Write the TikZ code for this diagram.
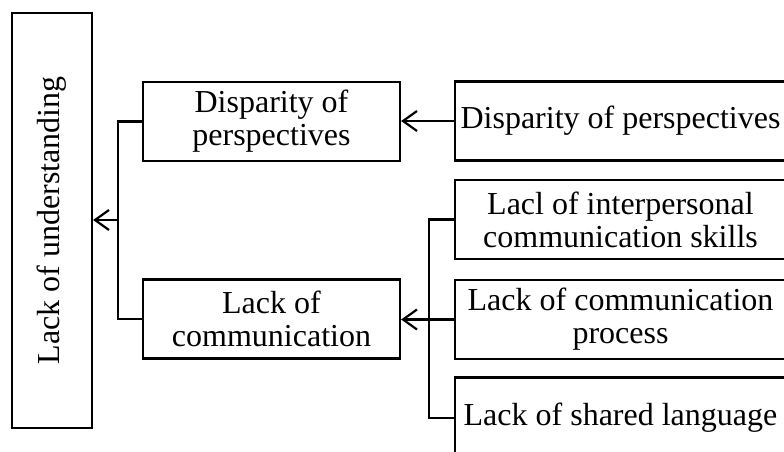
\documentclass[tikz,border=0pt]{standalone}
\usepackage{fontspec}
\setmainfont{Liberation Serif}
\usetikzlibrary{arrows.meta}

\begin{document}
\begin{tikzpicture}[x=1pt,y=-1pt,
		box/.style={draw,line width=2.2pt,align=center,inner sep=0pt,font=\fontsize{32}{33}\selectfont},
		link/.style={line width=2.2pt},
		arr/.style={line width=2.2pt,-{Straight Barb[length=14pt,width=20pt]}}]
		%%%%% START %%%%%
		\useasboundingbox (0,0) rectangle (784,452);
		\clip (0,0) rectangle (784,452);
		
		\node[box,minimum width=80pt,minimum height=415pt] (under) at (52,220.5) {\rotatebox{90}{Lack of understanding}};
		
		\node[box,minimum width=257pt,minimum height=79pt] (disp) at (271.5,121.5) {Disparity of\\perspectives};
		\node[box,minimum width=257pt,minimum height=79pt] (comm) at (271.5,319) {Lack of\\communication};
		
		\node[box,minimum width=331pt,minimum height=79pt] (dispR) at (620.5,121) {Disparity of perspectives};
		\node[box,minimum width=331pt,minimum height=79pt] (skills) at (620.5,219.5) {Lacl of interpersonal\\communication skills};
		\node[box,minimum width=331pt,minimum height=79pt] (proc) at (620.5,319.5) {Lack of communication\\process};
		\node[box,minimum width=331pt,minimum height=81pt] (lang) at (620.5,418) {Lack of shared language};
		
		\coordinate (jL) at (118,220);
		\coordinate (jR) at (429,319.5);
		
		\draw[link] (disp.west) -| (jL) |- (comm.west);
		\draw[arr] (jL) -- (jL -| under.east);
		
		\draw[arr] (dispR.west) -- (dispR.west -| disp.east);
		
		\draw[link] (skills.west) -| (jR) |- (lang.west);
		\draw[arr] (proc.west) -- (proc.west -| comm.east);
		%%%%% END %%%%%
	\end{tikzpicture}
\end{document}
